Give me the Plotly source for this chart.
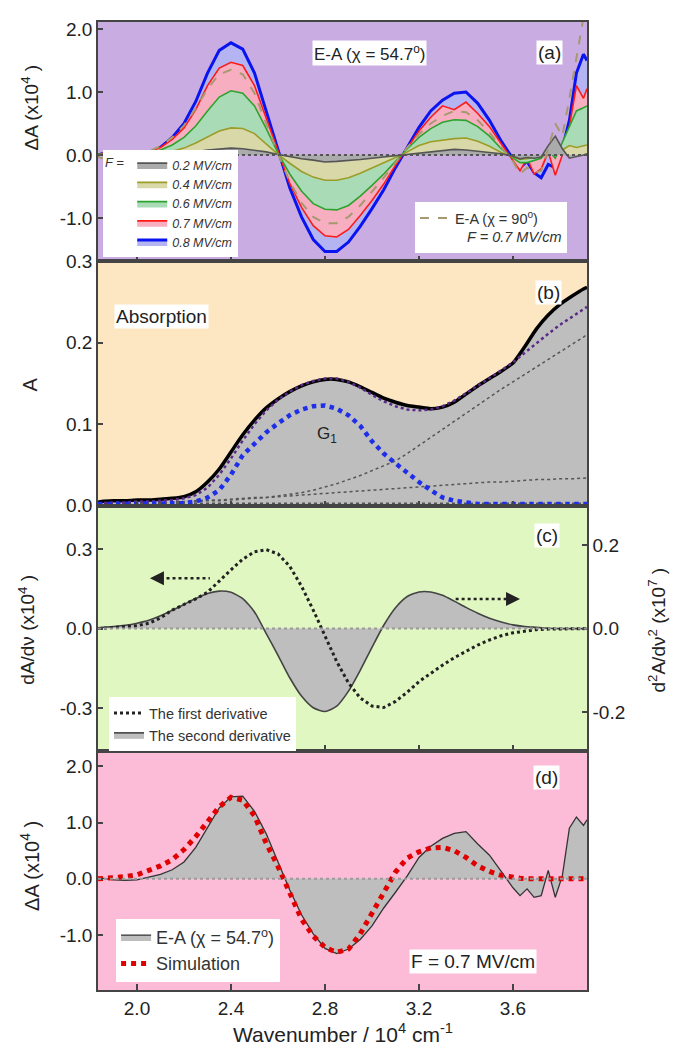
import plotly.graph_objects as go

# ---------------- data ----------------
# shared wavenumber grid for panels (a) and (d)  [10^4 cm^-1]
x_ea = [1.834, 1.85, 1.90, 1.95, 2.00, 2.05, 2.10, 2.15, 2.20, 2.25, 2.30, 2.35, 2.40, 2.45,
        2.50, 2.55, 2.60, 2.65, 2.70, 2.75, 2.80, 2.85, 2.90, 2.95, 3.00, 3.05, 3.10, 3.15,
        3.20, 3.25, 3.30, 3.35, 3.40, 3.45, 3.50, 3.55, 3.60, 3.63, 3.66, 3.69, 3.72, 3.75,
        3.78, 3.81, 3.84, 3.87, 3.90, 3.915]

# (a) E-A spectra, chi = 54.7 deg, dA (x10^4)
ea_f02 = [0.00, 0.01, 0.00, 0.00, 0.00, 0.00, 0.01, 0.02, 0.03, 0.05, 0.08, 0.10, 0.11, 0.10,
          0.08, 0.05, 0.01, -0.03, -0.06, -0.08, -0.11, -0.10, -0.09, -0.07, -0.05, -0.03, -0.01, 0.02,
          0.04, 0.05, 0.07, 0.09, 0.08, 0.06, 0.04, 0.02, -0.02, -0.06, -0.04, -0.05, -0.03, 0.15,
          0.30, 0.10, -0.05, -0.03, 0.00, 0.02]
ea_f04 = [0.00, 0.02, -0.01, 0.00, 0.00, 0.01, 0.03, 0.06, 0.11, 0.19, 0.29, 0.38, 0.43, 0.42,
          0.34, 0.18, 0.01, -0.13, -0.26, -0.35, -0.40, -0.40, -0.36, -0.29, -0.21, -0.12, -0.04, 0.05,
          0.15, 0.21, 0.24, 0.26, 0.27, 0.22, 0.14, 0.04, -0.03, -0.07, -0.06, -0.04, -0.02, 0.05,
          0.02, 0.08, 0.15, 0.12, 0.15, 0.16]
ea_f06 = [0.02, 0.00, -0.02, 0.00, 0.00, 0.03, 0.08, 0.16, 0.28, 0.46, 0.70, 0.92, 1.02, 0.98,
          0.78, 0.42, 0.03, -0.30, -0.57, -0.77, -0.86, -0.87, -0.80, -0.65, -0.48, -0.30, -0.10, 0.10,
          0.28, 0.42, 0.52, 0.56, 0.55, 0.45, 0.30, 0.10, -0.05, -0.12, -0.12, -0.08, -0.05, 0.08,
          -0.05, 0.20, 0.45, 0.70, 0.75, 0.78]
ea_f07 = [-0.02, 0.03, -0.04, 0.00, 0.02, 0.05, 0.12, 0.25, 0.43, 0.72, 1.10, 1.38, 1.47, 1.42,
          1.10, 0.58, 0.05, -0.45, -0.83, -1.12, -1.28, -1.30, -1.18, -0.96, -0.72, -0.46, -0.16, 0.12,
          0.38, 0.60, 0.78, 0.72, 0.84, 0.66, 0.45, 0.18, -0.08, -0.25, -0.05, -0.30, -0.22, 0.05,
          -0.32, 0.00, 0.45, 1.10, 0.90, 1.05]
ea_f08 = [0.00, 0.02, -0.02, 0.01, 0.00, 0.04, 0.12, 0.28, 0.50, 0.85, 1.30, 1.66, 1.78, 1.68,
          1.30, 0.68, 0.06, -0.52, -0.98, -1.34, -1.53, -1.53, -1.38, -1.13, -0.85, -0.55, -0.20, 0.13,
          0.44, 0.70, 0.87, 0.98, 1.00, 0.82, 0.55, 0.22, -0.06, -0.20, -0.10, -0.28, -0.36, -0.15,
          -0.20, 0.10, 0.55, 1.30, 1.60, 1.50]
# (a) E-A, chi = 90 deg, F = 0.7 MV/cm
ea_chi90 = [-0.03, -0.05, -0.04, 0.00, 0.02, 0.06, 0.14, 0.28, 0.47, 0.74, 1.05, 1.28, 1.35, 1.28,
            0.98, 0.50, 0.02, -0.42, -0.76, -0.98, -1.08, -1.08, -0.98, -0.80, -0.58, -0.36, -0.12, 0.12,
            0.33, 0.50, 0.62, 0.70, 0.68, 0.55, 0.36, 0.12, -0.10, -0.30, -0.20, -0.28, -0.25, 0.10,
            0.50, 0.30, 0.90, 1.60, 2.30, 2.50]

# (d) E-A (chi = 54.7, F = 0.7) and simulation
ea_d = [0.00, 0.01, -0.02, -0.03, -0.02, 0.03, 0.08, 0.16, 0.30, 0.56, 0.92, 1.26, 1.46, 1.47,
        1.20, 0.80, 0.30, -0.20, -0.64, -0.98, -1.24, -1.33, -1.25, -1.08, -0.84, -0.52, -0.24, 0.05,
        0.38, 0.58, 0.72, 0.81, 0.84, 0.62, 0.42, 0.14, -0.16, -0.30, -0.18, -0.33, -0.30, 0.15,
        -0.33, 0.05, 0.90, 1.10, 0.95, 1.05]
sim_d = [0.00, 0.00, 0.02, 0.04, 0.07, 0.15, 0.23, 0.34, 0.52, 0.75, 1.02, 1.28, 1.45, 1.40,
         1.12, 0.63, 0.22, -0.25, -0.72, -1.02, -1.22, -1.31, -1.25, -0.98, -0.62, -0.22, 0.12, 0.37,
         0.48, 0.55, 0.56, 0.50, 0.38, 0.23, 0.13, 0.06, 0.02, 0.01, 0.00, 0.00, 0.00, 0.00,
         0.00, 0.00, 0.00, 0.00, 0.00, 0.00]

# grid for panels (b) and (c)
x_abs = [1.834, 1.85, 1.90, 1.95, 2.00, 2.05, 2.10, 2.15, 2.20, 2.25, 2.30, 2.35, 2.40, 2.45,
         2.50, 2.55, 2.60, 2.65, 2.70, 2.75, 2.80, 2.85, 2.90, 2.95, 3.00, 3.05, 3.10, 3.15,
         3.20, 3.25, 3.30, 3.35, 3.40, 3.45, 3.50, 3.55, 3.60, 3.65, 3.70, 3.75, 3.80, 3.85,
         3.90, 3.915]
absorb = [0.004, 0.005, 0.006, 0.006, 0.007, 0.007, 0.008, 0.009, 0.011, 0.017, 0.029, 0.045, 0.066, 0.087,
          0.105, 0.120, 0.131, 0.140, 0.147, 0.152, 0.155, 0.155, 0.152, 0.146, 0.139, 0.132, 0.127, 0.123,
          0.121, 0.119, 0.121, 0.127, 0.137, 0.147, 0.156, 0.165, 0.175, 0.195, 0.217, 0.234, 0.247, 0.257,
          0.266, 0.268]
fit_sum = [0.003, 0.003, 0.004, 0.004, 0.005, 0.005, 0.006, 0.007, 0.009, 0.013, 0.022, 0.038, 0.058, 0.080,
           0.100, 0.117, 0.130, 0.140, 0.148, 0.153, 0.156, 0.156, 0.152, 0.145, 0.136, 0.128, 0.122, 0.118,
           0.117, 0.118, 0.122, 0.129, 0.138, 0.147, 0.156, 0.166, 0.176, 0.188, 0.200, 0.211, 0.222, 0.232,
           0.241, 0.244]
g1 = [0.002, 0.002, 0.002, 0.002, 0.002, 0.002, 0.002, 0.002, 0.003, 0.005, 0.010, 0.019, 0.038, 0.062,
      0.077, 0.090, 0.101, 0.111, 0.118, 0.122, 0.123, 0.119, 0.111, 0.098, 0.079, 0.064, 0.052, 0.040,
      0.029, 0.019, 0.010, 0.006, 0.004, 0.002, 0.002, 0.002, 0.002, 0.002, 0.002, 0.002, 0.002, 0.002,
      0.002, 0.002]
g_high = [0.001, 0.001, 0.001, 0.002, 0.002, 0.002, 0.003, 0.003, 0.004, 0.005, 0.006, 0.006, 0.007, 0.008,
          0.009, 0.010, 0.012, 0.014, 0.016, 0.019, 0.023, 0.027, 0.032, 0.037, 0.043, 0.049, 0.055, 0.064,
          0.074, 0.084, 0.094, 0.104, 0.114, 0.124, 0.133, 0.143, 0.152, 0.161, 0.170, 0.179, 0.188, 0.197,
          0.207, 0.210]
g_low = [0.002, 0.002, 0.003, 0.003, 0.003, 0.004, 0.004, 0.005, 0.005, 0.006, 0.007, 0.007, 0.008, 0.009,
         0.010, 0.010, 0.011, 0.012, 0.013, 0.014, 0.015, 0.016, 0.017, 0.018, 0.019, 0.020, 0.021, 0.022,
         0.023, 0.024, 0.025, 0.026, 0.027, 0.028, 0.029, 0.029, 0.030, 0.031, 0.032, 0.032, 0.033, 0.033,
         0.034, 0.034]
x_base = [1.834, 3.915]
g_base = [0.003, 0.003]

# (c) derivatives of G1
d1 = [0.000, 0.001, 0.003, 0.006, 0.011, 0.020, 0.040, 0.070, 0.090, 0.112, 0.137, 0.180, 0.222, 0.262,
      0.290, 0.298, 0.282, 0.235, 0.160, 0.070, -0.030, -0.125, -0.205, -0.262, -0.292, -0.298, -0.275, -0.240,
      -0.200, -0.168, -0.138, -0.110, -0.085, -0.062, -0.043, -0.027, -0.016, -0.009, -0.004, -0.002, -0.001, 0.000,
      0.000, 0.000]
d2 = [0.002, 0.003, 0.005, 0.008, 0.013, 0.020, 0.031, 0.044, 0.058, 0.072, 0.084, 0.090, 0.087, 0.072,
      0.040, -0.012, -0.064, -0.118, -0.162, -0.190, -0.199, -0.186, -0.150, -0.100, -0.045, 0.008, 0.050, 0.077,
      0.088, 0.088, 0.080, 0.066, 0.051, 0.037, 0.025, 0.016, 0.009, 0.005, 0.003, 0.001, 0.000, 0.000,
      0.000, 0.000]

x_ticks = [2.0, 2.4, 2.8, 3.2, 3.6]
x_ticktext = ["2.0", "2.4", "2.8", "3.2", "3.6"]
ya_ticks = [-1.0, 0.0, 1.0, 2.0]
ya_text = ["-1.0", "0.0", "1.0", "2.0"]
yb_ticks = [0.0, 0.1, 0.2, 0.3]
yb_text = ["0.0", "0.1", "0.2", "0.3"]
yc_ticks = [-0.3, 0.0, 0.3]
yc_text = ["-0.3", "0.0", "0.3"]
yc2_ticks = [-0.2, 0.0, 0.2]
yc2_text = ["-0.2", "0.0", "0.2"]
yd_ticks = [-1.0, 0.0, 1.0, 2.0]
yd_text = ["-1.0", "0.0", "1.0", "2.0"]

# ---------------- styling ----------------
FONT = "Liberation Sans, Arial, sans-serif"
TXT = "#222222"
AX = "#444444"
XR = [1.834, 3.915]

fig = go.Figure()

# ---- panel (a)
series_a = [
    (ea_f08, "0.8 MV/cm", "#0A14F0", "#B4B4F2", 3.0),
    (ea_f07, "0.7 MV/cm", "#FF1A1A", "#F6AEC0", 1.6),
    (ea_f06, "0.6 MV/cm", "#2DA32D", "#A9DCB6", 1.6),
    (ea_f04, "0.4 MV/cm", "#9C9C28", "#D9D8A8", 1.6),
    (ea_f02, "0.2 MV/cm", "#555555", "#ABABAB", 1.6),
]
for ys, name, lc, fc, lw in series_a:
    fig.add_trace(go.Scatter(x=x_ea, y=ys, mode="lines", name=name, fill="tozeroy",
                             fillcolor=fc, line=dict(color=lc, width=lw),
                             xaxis="x", yaxis="y", legend="legend"))
fig.add_trace(go.Scatter(x=x_ea, y=ea_chi90, mode="lines",
                         name="E-A (χ = 90<sup>o</sup>)<br>   <i>F = 0.7 MV/cm</i>",
                         line=dict(color="#A89870", width=2, dash="dash"),
                         xaxis="x", yaxis="y", legend="legend2"))

# ---- panel (b)
fig.add_trace(go.Scatter(x=x_abs, y=absorb, mode="lines", fill="tozeroy", fillcolor="#BEBEBE",
                         line=dict(color="#000000", width=3.5, shape="spline", smoothing=0.6),
                         showlegend=False, xaxis="x2", yaxis="y2"))
for ys in (g_high, g_low):
    fig.add_trace(go.Scatter(x=x_abs, y=ys, mode="lines", line=dict(color="#555555", width=1.5, dash="dot"),
                             showlegend=False, xaxis="x2", yaxis="y2"))
fig.add_trace(go.Scatter(x=x_base, y=g_base, mode="lines", line=dict(color="#555555", width=1.5, dash="dot"),
                         showlegend=False, xaxis="x2", yaxis="y2"))
fig.add_trace(go.Scatter(x=x_abs, y=fit_sum, mode="lines", line=dict(color="#5B2A86", width=2.5, dash="dot"),
                         showlegend=False, xaxis="x2", yaxis="y2"))
fig.add_trace(go.Scatter(x=x_abs, y=g1, mode="lines", line=dict(color="#1F2EE8", width=4.5, dash="dot"),
                         showlegend=False, xaxis="x2", yaxis="y2"))

# ---- panel (c): second derivative on base axis (right), first derivative on overlay (left)
fig.add_trace(go.Scatter(x=x_abs, y=d2, mode="lines", name="The second derivative", fill="tozeroy",
                         fillcolor="#BEBEBE", line=dict(color="#444444", width=1.6, shape="spline", smoothing=0.6),
                         xaxis="x3", yaxis="y3", legend="legend3"))
fig.add_trace(go.Scatter(x=x_abs, y=d1, mode="lines", name="The first derivative",
                         line=dict(color="#222222", width=3, dash="dot"),
                         xaxis="x3", yaxis="y5", legend="legend3"))

# ---- panel (d)
fig.add_trace(go.Scatter(x=x_ea, y=ea_d, mode="lines", name="E-A (χ = 54.7<sup>o</sup>)", fill="tozeroy",
                         fillcolor="#BEBEBE", line=dict(color="#333333", width=1.3),
                         xaxis="x4", yaxis="y4", legend="legend4"))
fig.add_trace(go.Scatter(x=x_ea, y=sim_d, mode="lines", name="Simulation",
                         line=dict(color="#E00000", width=5, dash="dot"),
                         xaxis="x4", yaxis="y4", legend="legend4"))

dom_a = [0.7528, 1.0]
dom_b = [0.4995, 0.7528]
dom_c = [0.2472, 0.4995]
dom_d = [0.0, 0.2472]

def xaxis(anchor, labels):
    return dict(domain=[0, 1], anchor=anchor, range=XR, showline=True, mirror=True, linecolor=AX,
                linewidth=1.5, ticks="inside", ticklen=6, tickwidth=1.5, tickcolor=AX,
                tickvals=x_ticks, ticktext=x_ticktext, showticklabels=labels, showgrid=False,
                zeroline=False, tickfont=dict(size=19, color=TXT, family=FONT))

def yaxis(dom, anchor, rng, tv, tt, side="left", mirror=True):
    return dict(domain=dom, anchor=anchor, range=rng, side=side, showline=True, mirror=mirror,
                linecolor=AX, linewidth=1.5, ticks="inside", ticklen=5, tickwidth=1.5, tickcolor=AX,
                tickvals=tv, ticktext=tt, showgrid=False, zeroline=False,
                tickfont=dict(size=19, color=TXT, family=FONT))

bg = [("x", "y", "#C9ADE2"), ("x2", "y2", "#FDE6C2"), ("x3", "y3", "#E0F7C1"), ("x4", "y4", "#FCBBD7")]
shapes = []
for xr, yr, col in bg:
    shapes.append(dict(type="rect", xref=xr + " domain", yref=yr + " domain", x0=0, x1=1, y0=0, y1=1,
                       fillcolor=col, line=dict(width=0), layer="below"))
# dotted zero lines
for xr, yr, col in [("x", "y", "#555555"), ("x3", "y3", "#9A9A9A"), ("x4", "y4", "#9A9A9A")]:
    shapes.append(dict(type="line", xref=xr + " domain", yref=yr, x0=0, x1=1, y0=0, y1=0,
                       line=dict(color=col, width=2, dash="dot"), layer="above"))
# dotted arrow shafts in (c)
shapes.append(dict(type="line", xref="x3", yref="y5", x0=2.10, x1=2.31, y0=0.19, y1=0.19,
                   line=dict(color="#222222", width=2.5, dash="dot")))
shapes.append(dict(type="line", xref="x3", yref="y5", x0=3.356, x1=3.58, y0=0.112, y1=0.112,
                   line=dict(color="#222222", width=2.5, dash="dot")))

def label(text, x, y, size=19, bg="white", xanchor="center", xref="paper", yref="paper", angle=0, **kw):
    d = dict(text=text, x=x, y=y, xref=xref, yref=yref, showarrow=False, xanchor=xanchor, yanchor="middle",
             font=dict(size=size, color=TXT, family=FONT), textangle=angle, borderpad=1)
    if bg:
        d["bgcolor"] = bg
    d.update(kw)
    return d

annotations = [
    label("(a)", 0.924, 0.968, size=19),
    label("(b)", 0.922, 0.721, size=19),
    label("(c)", 0.918, 0.4697, size=19),
    label("(d)", 0.918, 0.2195, size=19),
    label("E-A (χ = 54.7<sup>o</sup>)", 0.556, 0.9677, size=17),
    label("Absorption", 0.129, 0.696, size=19),
    label("G<sub>1</sub>", 2.81, 0.0866, size=17, bg=None, xref="x2", yref="y2"),
    label("F = 0.7 MV/cm", 0.767, 0.0297, size=19),
    # axis titles
    label("ΔA (x10<sup>4</sup> )", -0.139, 0.9118, size=19, bg=None, angle=-90),
    label("A", -0.139, 0.6256, size=20, bg=None, angle=-90),
    label("dA/dν (x10<sup>4</sup> )", -0.147, 0.3723, size=19, bg=None, angle=-90),
    label("d<sup>2</sup>A/dν<sup>2</sup> (x10<sup>7</sup> )", 1.143, 0.3723, size=19, bg=None, angle=-90),
    label("ΔA (x10<sup>4</sup> )", -0.139, 0.1282, size=20, bg=None, angle=-90),
    label("Wavenumber / 10<sup>4</sup> cm<sup>-1</sup>", 0.5, -0.0441, size=21, bg=None),
    # arrow heads
    dict(x=2.055, y=0.19, xref="x3", yref="y5", ax=2.11, ay=0.19, axref="x3", ayref="y5", text="",
         showarrow=True, arrowhead=2, arrowsize=1.4, arrowwidth=2, arrowcolor="#222222"),
    dict(x=3.63, y=0.112, xref="x3", yref="y5", ax=3.575, ay=0.112, axref="x3", ayref="y5", text="",
         showarrow=True, arrowhead=2, arrowsize=1.4, arrowwidth=2, arrowcolor="#222222"),
]

leg_common = dict(bgcolor="white", borderwidth=0, xref="paper", yref="paper")
fig.update_layout(
    width=673, height=1050, autosize=False,
    margin=dict(l=98, r=86, t=15, b=60, pad=0),
    paper_bgcolor="white", plot_bgcolor="rgba(0,0,0,0)",
    font=dict(family=FONT, color=TXT, size=16),
    xaxis=xaxis("y", False), xaxis2=xaxis("y2", False), xaxis3=xaxis("y3", False), xaxis4=xaxis("y4", True),
    yaxis=yaxis(dom_a, "x", [-1.685, 2.11], ya_ticks, ya_text),
    yaxis2=yaxis(dom_b, "x2", [-0.001, 0.3], yb_ticks, yb_text),
    yaxis3=yaxis(dom_c, "x3", [-0.293, 0.293], yc2_ticks, yc2_text, side="right"),
    yaxis5=dict(yaxis(dom_c, "x3", [-0.461, 0.461], yc_ticks, yc_text, side="left", mirror=False),
                overlaying="y3"),
    yaxis4=yaxis(dom_d, "x4", [-1.98, 2.28], yd_ticks, yd_text),
    shapes=shapes, annotations=annotations,
    legend=dict(leg_common, x=0.01, y=0.8673, xanchor="left", yanchor="top", traceorder="reversed",
                itemwidth=30,
                font=dict(size=12.5, style="italic", color="#333333", family=FONT),
                title=dict(text="<i>F</i> =", side="left", font=dict(size=13, color="#333333"))),
    legend2=dict(leg_common, x=0.959, y=0.814, xanchor="right", yanchor="top", valign="top",
                 font=dict(size=14.5, color="#333333", family=FONT)),
    legend3=dict(leg_common, x=0.0225, y=0.3026, xanchor="left", yanchor="top", traceorder="reversed",
                 font=dict(size=14.5, color="#333333", family=FONT)),
    legend4=dict(leg_common, x=0.037, y=0.0735, xanchor="left", yanchor="top",
                 font=dict(size=18, color="#333333", family=FONT)),
)

fig.write_html("out.html")
